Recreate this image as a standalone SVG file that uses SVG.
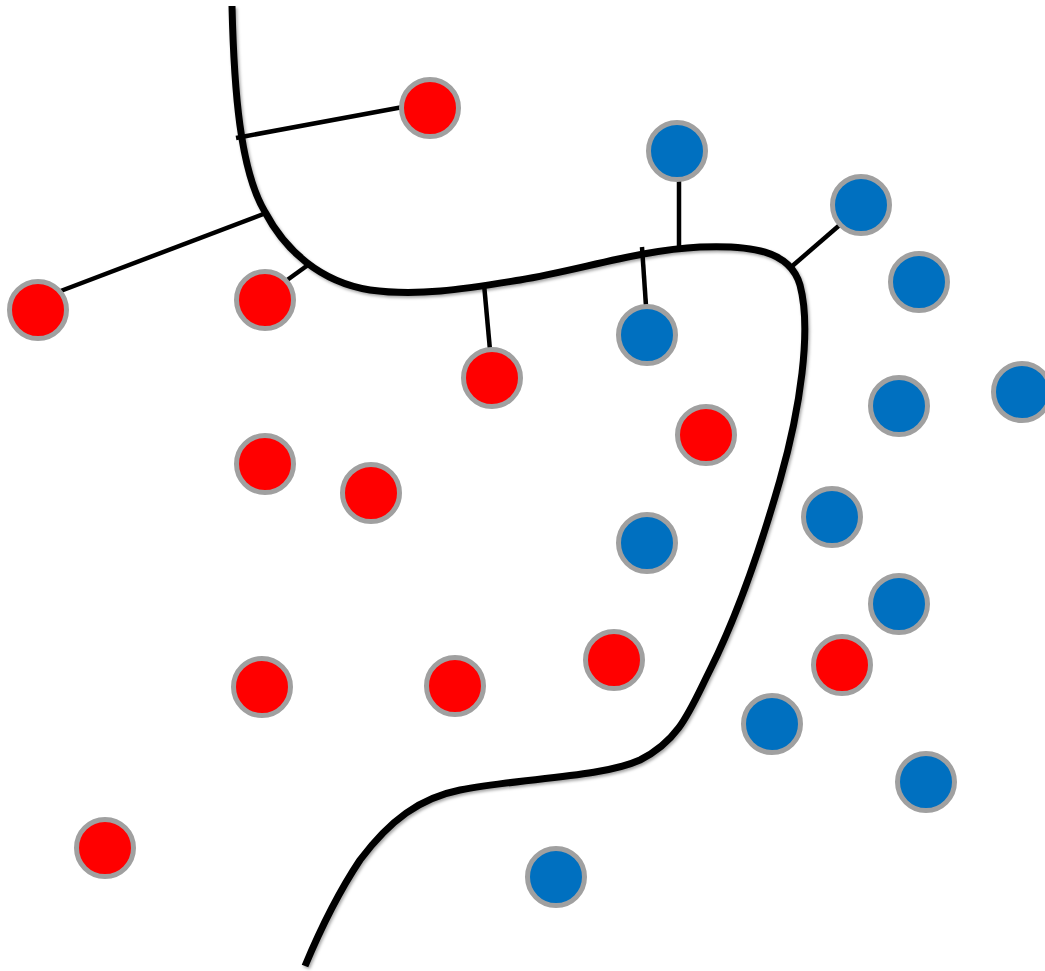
<svg xmlns="http://www.w3.org/2000/svg" width="1045" height="971" viewBox="0 0 1045 971">
<defs>
<style>
.red{fill:#ff0000;stroke:#a0a0a0;stroke-width:5}
.blue{fill:#0070c0;stroke:#a0a0a0;stroke-width:5}
.link{stroke:#000;stroke-width:4.5;fill:none}
.boundary{stroke:#000;stroke-width:7;fill:none;stroke-linecap:butt}
</style>
<filter id="sh" x="-5%" y="-5%" width="110%" height="110%">
<feDropShadow dx="1.5" dy="2" stdDeviation="1.5" flood-color="#000" flood-opacity="0.35"/>
</filter>
</defs>
<rect width="1045" height="971" fill="#fff"/>
<g id="connectors">
<path class="boundary" filter="url(#sh)" d="M232,6 C234,90 240,170 265,212 C285,250 320,282 370,290 C420,297 470,288 520,280 C580,270 640,250 700,247 C750,245 790,250 800,285 C812,330 800,410 780,480 C760,550 735,620 710,670 C690,710 680,740 640,760 C600,778 520,778 460,790 C420,798 390,820 360,860 C340,890 320,930 305,966"/>
<line class="link" x1="236" y1="138" x2="403" y2="107"/>
<line class="link" x1="266" y1="213" x2="58" y2="292"/>
<line class="link" x1="308" y1="265" x2="283" y2="283"/>
<line class="link" x1="484" y1="284" x2="490" y2="350"/>
<line class="link" x1="642" y1="247" x2="646" y2="306"/>
<line class="link" x1="679" y1="180" x2="679" y2="248"/>
<line class="link" x1="790" y1="268" x2="842" y2="223"/>
</g>
<g id="r1"><circle class="red" cx="430" cy="108" r="28.5"/></g>
<g id="r2"><circle class="red" cx="38" cy="310" r="28.5"/></g>
<g id="r3"><circle class="red" cx="265" cy="300" r="28.5"/></g>
<g id="r4"><circle class="red" cx="492" cy="378" r="28.5"/></g>
<g id="r5"><circle class="red" cx="265" cy="464" r="28.5"/></g>
<g id="r6"><circle class="red" cx="371" cy="493" r="28.5"/></g>
<g id="r7"><circle class="red" cx="706" cy="435" r="28.5"/></g>
<g id="r8"><circle class="red" cx="262" cy="687" r="28.5"/></g>
<g id="r9"><circle class="red" cx="455" cy="686" r="28.5"/></g>
<g id="r10"><circle class="red" cx="614" cy="660" r="28.5"/></g>
<g id="r11"><circle class="red" cx="842" cy="665" r="28.5"/></g>
<g id="r12"><circle class="red" cx="105" cy="848" r="28.5"/></g>
<g id="b1"><circle class="blue" cx="677" cy="151" r="28.5"/></g>
<g id="b2"><circle class="blue" cx="861" cy="205" r="28.5"/></g>
<g id="b3"><circle class="blue" cx="919" cy="282" r="28.5"/></g>
<g id="b4"><circle class="blue" cx="647" cy="335" r="28.5"/></g>
<g id="b5"><circle class="blue" cx="899" cy="406" r="28.5"/></g>
<g id="b6"><circle class="blue" cx="1022" cy="392" r="28.5"/></g>
<g id="b7"><circle class="blue" cx="832" cy="517" r="28.5"/></g>
<g id="b8"><circle class="blue" cx="647" cy="543" r="28.5"/></g>
<g id="b9"><circle class="blue" cx="899" cy="604" r="28.5"/></g>
<g id="b10"><circle class="blue" cx="772" cy="724" r="28.5"/></g>
<g id="b11"><circle class="blue" cx="926" cy="782" r="28.5"/></g>
<g id="b12"><circle class="blue" cx="556" cy="877" r="28.5"/></g>
</svg>
